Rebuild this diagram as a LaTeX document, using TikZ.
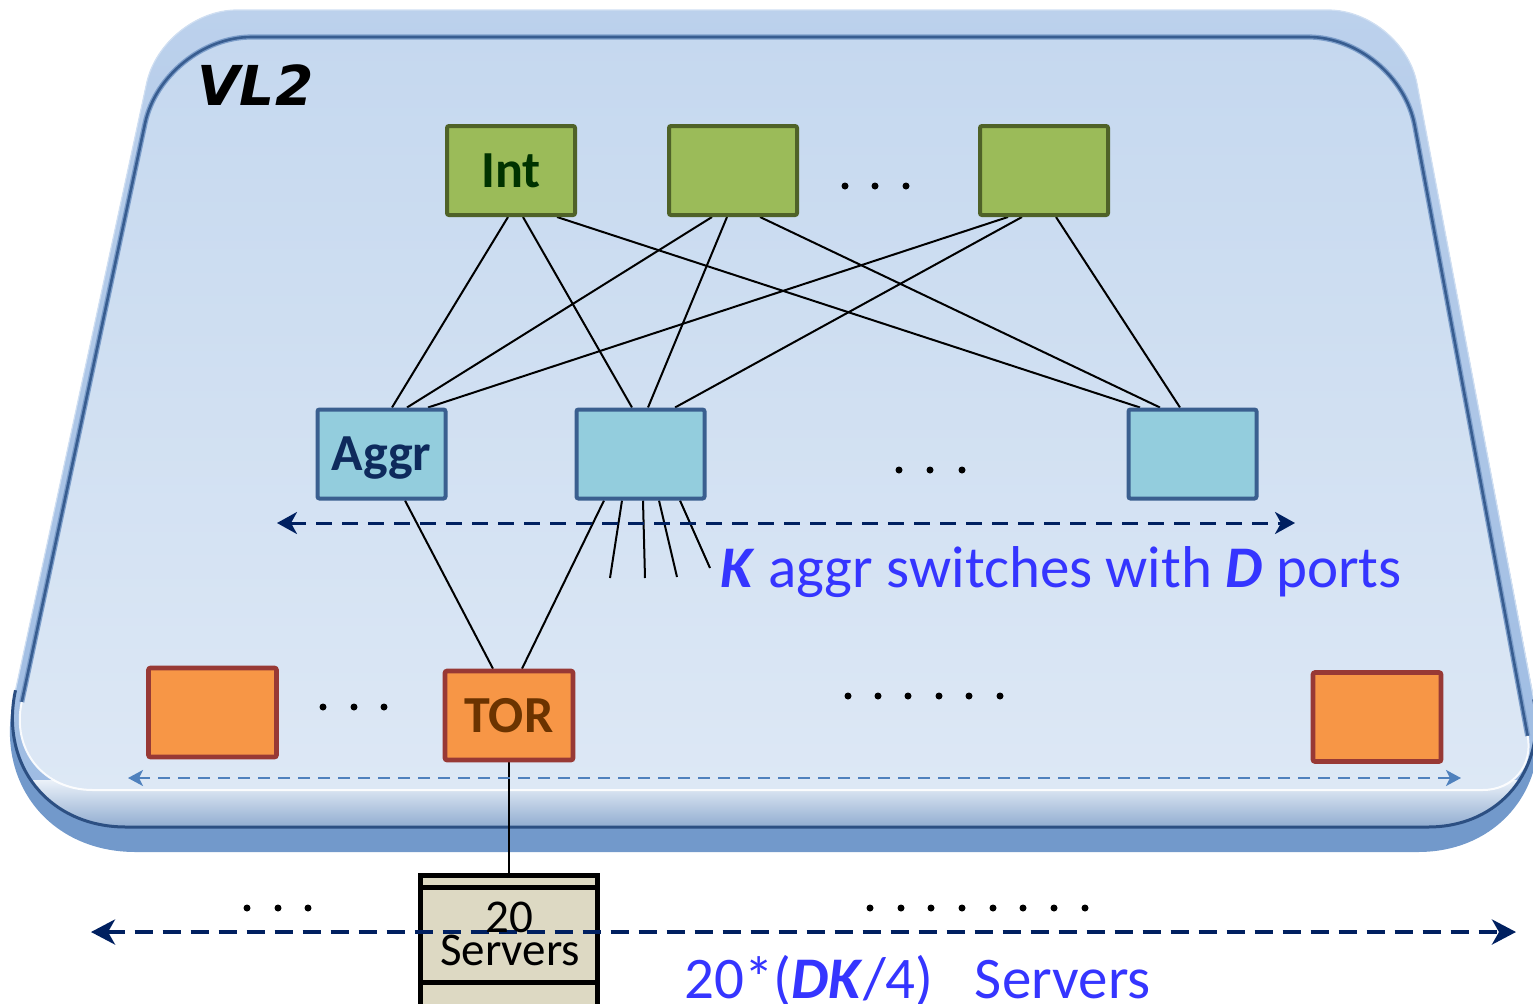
\documentclass[tikz,border=0pt]{standalone}
\usepackage{fontspec}
\setmainfont{Carlito}
\newfontfamily\vlfont{DejaVu Sans Bold Oblique}
\usetikzlibrary{arrows.meta,calc,backgrounds}

\definecolor{intfill}{HTML}{9BBB59}
\definecolor{intline}{HTML}{4F6228}
\definecolor{inttext}{HTML}{003300}
\definecolor{aggfill}{HTML}{93CDDD}
\definecolor{aggline}{HTML}{3A5F8F}
\definecolor{aggtext}{HTML}{0E2A5C}
\definecolor{torfill}{HTML}{F79646}
\definecolor{torline}{HTML}{983935}
\definecolor{tortext}{HTML}{6B3300}
\definecolor{srvfill}{HTML}{DDD9C3}
\definecolor{navy}{HTML}{002060}
\definecolor{lightarr}{HTML}{4F81BD}
\definecolor{bluetext}{HTML}{3535FF}
\definecolor{baseside}{HTML}{7299CB}
\definecolor{rimtop}{HTML}{BCD1EC}
\definecolor{rimbot}{HTML}{9DBBE2}
\definecolor{facetop}{HTML}{C5D8EF}
\definecolor{facebot}{HTML}{DDE8F5}
\definecolor{faceline}{HTML}{385D90}
\definecolor{facehalo}{HTML}{7D9ECA}
\definecolor{rimline}{HTML}{2C4F82}

\begin{document}
\begin{tikzpicture}[x=0.5pt,y=-0.5pt,
  switchbox/.style={rectangle, rounded corners=1pt, inner sep=0pt,
    minimum width=64pt, minimum height=44.5pt, text depth=0pt,
    font=\bfseries\fontsize{26}{30}\selectfont},
  intbox/.style={switchbox, draw=intline, fill=intfill, line width=2pt, text=inttext},
  aggbox/.style={switchbox, draw=aggline, fill=aggfill, line width=2pt, text=aggtext},
  torbox/.style={switchbox, draw=torline, fill=torfill, line width=2.3pt, text=tortext},
  srvbox/.style={rectangle, draw=black, fill=srvfill, line width=2.5pt,
    minimum width=88.5pt, minimum height=72.25pt, inner sep=0pt},
  srvtext/.style={anchor=base, inner sep=0pt, font=\fontsize{23.5}{28}\selectfont},
  link/.style={draw=black, line width=1pt},
  dotmark/.style={fill=black},
  navyrange/.style={draw=navy, line width=1.5pt, dash pattern=on 8pt off 5pt,
    {Stealth[length=10pt,width=11pt,inset=3pt]}-{Stealth[length=10pt,width=11pt,inset=3pt]}},
  torrange/.style={draw=lightarr, line width=1pt, dash pattern=on 6pt off 4pt,
    {Stealth[length=7.5pt,width=8pt,inset=2pt]}-{Stealth[length=7.5pt,width=8pt,inset=2pt]}},
  srvrange/.style={draw=navy, line width=2pt, dash pattern=on 9pt off 5pt,
    {Stealth[length=12pt,width=12.5pt,inset=3.5pt]}-{Stealth[length=12pt,width=12.5pt,inset=3.5pt]}},
  bluelabel/.style={anchor=base west, inner sep=0pt, text=bluetext,
    font=\fontsize{29.5}{34}\selectfont}
]
\useasboundingbox (0,0) rectangle (1533,1003);
\clip (0,0) rectangle (1533,1003);

% ---------- the VL2 platform ----------
\begin{pgfonlayer}{background}
% side band of the slab
\fill[baseside] (237,10) -- (1328,10) .. controls (1369.3,10) and (1409.3,43.2) .. (1417,83.7)
  -- (1536,709.6) .. controls (1550.9,787.9) and (1497.8,852) .. (1418,852)
  -- (135.6,852) .. controls (50.4,852) and (-4.7,783.9) .. (13.3,700.6)
  -- (146.6,83.3) .. controls (155.3,43) and (196,10) .. (237,10) -- cycle;
% glossy rim
\shade[top color=rimtop, bottom color=rimbot, draw=rimtop!70!white, line width=0.6pt]
  (237,10) -- (1328,10) .. controls (1369.3,10) and (1409.3,43.2) .. (1417,83.7)
  -- (1533.7,699.3) .. controls (1547.1,769.5) and (1499.5,827) .. (1428,827)
  -- (126,827) .. controls (49,827) and (-0.7,765.4) .. (15.5,690.2)
  -- (146.6,83.3) .. controls (155.3,43) and (196,10) .. (237,10) -- cycle;
\begin{scope}
  \clip (237,10) -- (1328,10) .. controls (1369.3,10) and (1409.3,43.2) .. (1417,83.7)
    -- (1533.7,699.3) .. controls (1547.1,769.5) and (1499.5,827) .. (1428,827)
    -- (126,827) .. controls (49,827) and (-0.7,765.4) .. (15.5,690.2)
    -- (146.6,83.3) .. controls (155.3,43) and (196,10) .. (237,10) -- cycle;
  \shade[top color=facebot!60!white, bottom color=rimbot!92!black] (0,780) rectangle (1533,827);
\end{scope}
\draw[rimline, line width=1.5pt] (15.5,690.2) .. controls (-0.7,765.4) and (49,827) .. (126,827)
  -- (1428,827) .. controls (1499.5,827) and (1547.1,769.5) .. (1533.7,699.3);
% top face
\shade[top color=facetop, bottom color=facebot]
  (251.4,37) -- (1308.3,37) .. controls (1357.8,37) and (1405.7,76.8) .. (1414.7,125.5)
  -- (1527.7,735.9) .. controls (1533.2,765.7) and (1513,790) .. (1482.7,790)
  -- (93,790) .. controls (43.5,790) and (11.4,750.4) .. (21.7,702)
  -- (145.1,123.1) .. controls (155.2,75.7) and (203,37) .. (251.4,37) -- cycle;
\draw[facehalo, line width=2.6pt] (21.7,702) -- (145.1,123.1)
  .. controls (155.2,75.7) and (203,37) .. (251.4,37) -- (1308.3,37)
  .. controls (1357.8,37) and (1405.7,76.8) .. (1414.7,125.5) -- (1527.7,735.9);
\draw[faceline, line width=1.3pt] (21.7,702) -- (145.1,123.1)
  .. controls (155.2,75.7) and (203,37) .. (251.4,37) -- (1308.3,37)
  .. controls (1357.8,37) and (1405.7,76.8) .. (1414.7,125.5) -- (1527.7,735.9);
\draw[white, line width=1pt, opacity=0.9] (21.7,702) .. controls (11.4,750.4) and (43.5,790) .. (93,790)
  -- (1482.7,790) .. controls (1513,790) and (1533.2,765.7) .. (1527.7,735.9);
\end{pgfonlayer}

\node[anchor=base west, inner sep=0pt, font=\vlfont\fontsize{27.5}{32}\selectfont] (vl) at (197,105) {VL2};

% ---------- switches ----------
\node[intbox] (int1) at (511,170.5) {Int};
\node[intbox] (int2) at (733,170.5) {};
\node[intbox] (int3) at (1044,170.5) {};

\node[aggbox] (agg1) at (381.5,454) {Aggr};
\node[aggbox] (agg2) at (640.5,454) {};
\node[aggbox] (agg3) at (1192.5,454) {};

\node[torbox] (tor1) at (212.5,712.5) {};
\node[torbox] (tor2) at (509,715.5) {TOR};
\node[torbox] (tor3) at (1377,717) {};

\node[srvbox] (srv) at (509,947.75) {};
\draw[line width=2.5pt] ($(srv.north west)+(0,14.5)$) -- ($(srv.north east)+(0,14.5)$);
\draw[line width=2.5pt] ($(srv.north west)+(0,109.5)$) -- ($(srv.north east)+(0,109.5)$);

% ---------- links ----------
\begin{pgfonlayer}{background}
\draw[link] ($(int1.south)+(-3,0)$) -- ($(agg1.north)+(10.5,0)$);
\draw[link] ($(int1.south)+(12,0)$) -- ($(agg2.north)+(-8.5,0)$);
\draw[link] ($(int1.south)+(46,0)$) -- ($(agg3.north)+(-52.5,0)$);
\draw[link] ($(int2.south)+(-21,0)$) -- ($(agg1.north)+(25.5,0)$);
\draw[link] ($(int2.south)+(-6,0)$) -- ($(agg2.north)+(7.5,0)$);
\draw[link] ($(int2.south)+(27,0)$) -- ($(agg3.north)+(-32.5,0)$);
\draw[link] ($(int3.south)+(-36,0)$) -- ($(agg1.north)+(46.5,0)$);
\draw[link] ($(int3.south)+(-22,0)$) -- ($(agg2.north)+(34.5,0)$);
\draw[link] ($(int3.south)+(12,0)$) -- ($(agg3.north)+(-12.5,0)$);

\draw[link] ($(agg1.south)+(23.5,0)$) -- ($(tor2.north)+(-16,0)$);
\draw[link] ($(agg2.south)+(-36.5,0)$) -- ($(tor2.north)+(13,0)$);

\coordinate (f1) at (610,578);
\coordinate (f2) at (645,578);
\coordinate (f3) at (677,577);
\coordinate (f4) at (710,568);
\draw[link] ($(agg2.south)+(-18.5,0)$) -- (f1);
\draw[link] ($(agg2.south)+(2.5,0)$) -- (f2);
\draw[link] ($(agg2.south)+(18.5,0)$) -- (f3);
\draw[link] ($(agg2.south)+(39.5,0)$) -- (f4);

\draw[link] (tor2) -- (srv);
\end{pgfonlayer}

% ---------- ranges ----------
\coordinate (aL) at (277,523);
\coordinate (aR) at (1295,523);
\coordinate (tL) at (128,778);
\coordinate (tR) at (1461,778);
\coordinate (sL) at (91,932);
\coordinate (sR) at (1516,932);
\draw[navyrange] (aL) -- (aR);
\draw[torrange] (tL) -- (tR);
\draw[srvrange] (sL) -- (sR);

\node[srvtext] (n20) at (509.5,932) {20};
\node[srvtext] (nsrv) at (510,965) {Servers};

% ---------- ellipses ----------
\foreach \x in {845,875,906} \fill[dotmark] (\x,186) circle[radius=3.5];
\foreach \x in {899,930,962} \fill[dotmark] (\x,470) circle[radius=3.5];
\foreach \x in {323,354,384} \fill[dotmark] (\x,707) circle[radius=3.5];
\foreach \x in {848,878,908,939,969,1000} \fill[dotmark] (\x,696) circle[radius=3.5];
\foreach \x in {247,278,308} \fill[dotmark] (\x,908) circle[radius=3.5];
\foreach \x in {870,901,931,962,993,1023,1054,1085} \fill[dotmark] (\x,908) circle[radius=3.5];

% ---------- labels ----------
\node[bluelabel] (klabel) at (720,587) {\textbf{\textit{K}} aggr switches with \textbf{\textit{D}} ports};
\node[bluelabel] (nlabel) at (684,998) {20*(\textbf{\textit{DK}}/4)\hspace{0.7em}Servers};
\end{tikzpicture}
\end{document}
